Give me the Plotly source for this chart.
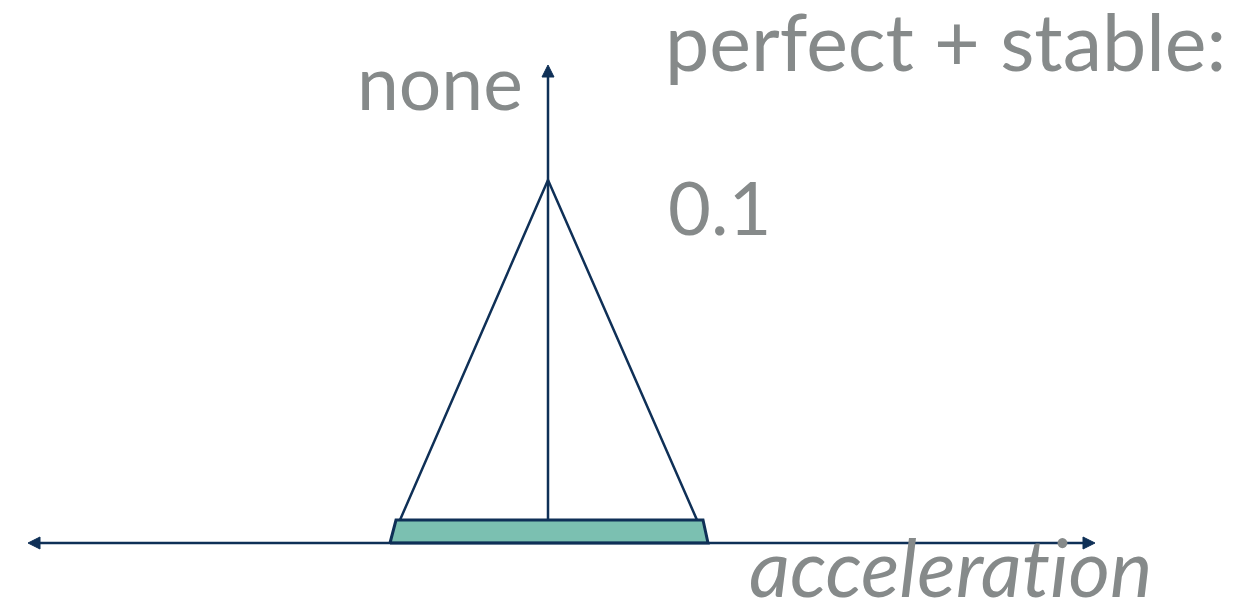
import plotly.graph_objects as go

# Diagram geometry (screen-like units, y grows downward)
accel_axis_x = [28, 1095]          # horizontal acceleration axis, tip to tip
accel_axis_y = 543
vert_axis_x = 548
vert_axis_y = [520, 65]            # from cart top up to arrow tip

pendulum_x = [400, 548, 697]       # two legs meeting at the apex
pendulum_y = [520, 180, 520]

cart_x = [390, 396, 703, 708, 390]
cart_y = [543, 520, 520, 543, 543]

labels = ["none", "perfect + stable:", "0.1", "acceleration"]

NAVY = "#0f3057"
TEAL = "#7bc0b1"
GREY = "#868a8a"
W, H = 1245, 603
HEAD_LEN, HEAD_HALF = 12, 6


def head(tip_x, tip_y, dx, dy):
    """Filled triangle arrowhead pointing along (dx, dy)."""
    bx, by = tip_x - dx * HEAD_LEN, tip_y - dy * HEAD_LEN
    px, py = -dy * HEAD_HALF, dx * HEAD_HALF
    return [tip_x, bx + px, bx - px, tip_x], [tip_y, by + py, by - py, tip_y]


fig = go.Figure()

# cart body
fig.add_trace(go.Scatter(x=cart_x, y=cart_y, mode="lines", fill="toself",
                         fillcolor=TEAL, line=dict(color=NAVY, width=3)))

# horizontal axis
fig.add_trace(go.Scatter(x=[accel_axis_x[0] + HEAD_LEN, accel_axis_x[1] - HEAD_LEN],
                         y=[accel_axis_y, accel_axis_y], mode="lines",
                         line=dict(color=NAVY, width=2.5)))
for tx, dx in [(accel_axis_x[0], -1), (accel_axis_x[1], 1)]:
    hx, hy = head(tx, accel_axis_y, dx, 0)
    fig.add_trace(go.Scatter(x=hx, y=hy, mode="lines", fill="toself",
                             fillcolor=NAVY, line=dict(color=NAVY, width=1)))

# vertical axis
fig.add_trace(go.Scatter(x=[vert_axis_x, vert_axis_x],
                         y=[vert_axis_y[0], vert_axis_y[1] + HEAD_LEN], mode="lines",
                         line=dict(color=NAVY, width=2.5)))
hx, hy = head(vert_axis_x, vert_axis_y[1], 0, -1)
fig.add_trace(go.Scatter(x=hx, y=hy, mode="lines", fill="toself",
                         fillcolor=NAVY, line=dict(color=NAVY, width=1)))

# pendulum frame
fig.add_trace(go.Scatter(x=pendulum_x, y=pendulum_y, mode="lines",
                         line=dict(color=NAVY, width=2.5)))

font = dict(family="Lato, 'Noto Sans', sans-serif", color=GREY)
annots = [
    dict(x=525, y=128, text=labels[0], xanchor="right", size=75),
    dict(x=1228, y=90, text=labels[1], xanchor="right", size=79),
    dict(x=666, y=253, text=labels[2], xanchor="left", size=74),
]
for a in annots:
    fig.add_annotation(x=a["x"], y=a["y"], text=a["text"], showarrow=False,
                       xanchor=a["xanchor"], yanchor="bottom",
                       font=dict(size=a["size"], **font))

# axis title sits partly below the plotting area, so place it in paper units;
# a zero-width non-joiner keeps "t" and "i" as separate glyphs
axis_title = labels[3].replace("ti", "t\u200ci")
fig.add_annotation(x=1154, y=(H - 616) / H, yref="paper", text="<i>" + axis_title + "</i>",
                   showarrow=False, xanchor="right", yanchor="bottom",
                   font=dict(size=80, **font))

fig.update_layout(
    width=W, height=H, margin=dict(l=0, r=0, t=0, b=0),
    plot_bgcolor="white", paper_bgcolor="white", showlegend=False,
    xaxis=dict(range=[0, W], visible=False, fixedrange=True),
    yaxis=dict(range=[H, 0], visible=False, fixedrange=True),
)

fig.write_html("out.html")
